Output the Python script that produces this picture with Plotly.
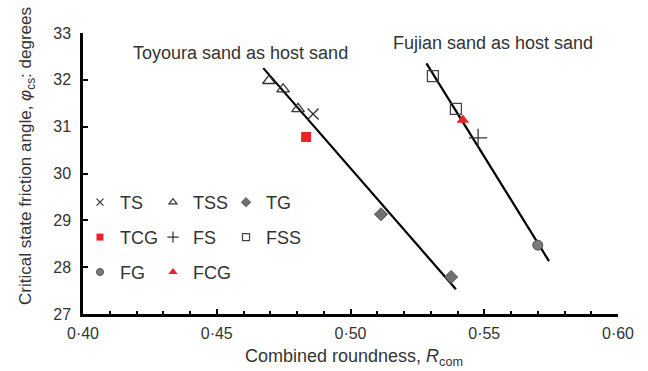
import plotly.graph_objects as go

# ---------------- data ----------------
ts_x = [0.486]
ts_y = [31.27]
tss_x = [0.4695, 0.4748, 0.4804]
tss_y = [31.98, 31.80, 31.38]
tg_x = [0.5114, 0.5376]
tg_y = [29.13, 27.79]
tcg_x = [0.4834]
tcg_y = [30.78]
fs_x = [0.5477]
fs_y = [30.76]
fss_x = [0.5308, 0.5394]
fss_y = [32.08, 31.38]
fg_x = [0.570]
fg_y = [28.47]
fcg_x = [0.542]
fcg_y = [31.14]

toyoura_line_x = [0.4674, 0.5394]
toyoura_line_y = [32.25, 27.53]
fujian_line_x = [0.5284, 0.5742]
fujian_line_y = [32.35, 28.13]

x_tickvals = [0.40, 0.45, 0.50, 0.55, 0.60]
x_ticktext = ["0·40", "0·45", "0·50", "0·55", "0·60"]
y_tickvals = [27, 28, 29, 30, 31, 32, 33]
y_ticktext = ["27", "28", "29", "30", "31", "32", "33"]

# ---------------- layout helpers ----------------
W, H = 648, 371
L, R, T, B = 83, 30, 33, 57
PW, PH = W - L - R, H - T - B
FONT = "Liberation Sans, Arial, sans-serif"
TXT = "#333333"
RED = "#e8242a"
DARK = "#333333"


def px(x):
    return (x - L) / PW


def py(y):
    return (H - B - y) / PH


# legend is laid out as three columns (one plotly legend per column)
series = [
    # name, x, y, marker(data), marker(legend key), legend id
    ("TS", ts_x, ts_y,
     dict(symbol="x-thin", size=11, color=DARK, line=dict(width=1.3, color=DARK)),
     dict(symbol="x-thin", size=7, color=DARK, line=dict(width=1.2, color=DARK)), "legend"),
    ("TSS", tss_x, tss_y,
     dict(symbol="triangle-up-open", size=11, color=DARK, line=dict(width=1.3)),
     dict(symbol="triangle-up-open", size=7, color=DARK, line=dict(width=1.2)), "legend2"),
    ("TG", tg_x, tg_y,
     dict(symbol="diamond", size=10, color="#707070", line=dict(width=1, color="#505050")),
     dict(symbol="diamond", size=7, color="#707070", line=dict(width=1, color="#505050")), "legend3"),
    ("TCG", tcg_x, tcg_y,
     dict(symbol="square", size=10, color=RED, line=dict(width=0)),
     dict(symbol="square", size=7, color=RED, line=dict(width=0)), "legend"),
    ("FS", fs_x, fs_y,
     dict(symbol="cross-thin", size=13, color=DARK, line=dict(width=1.3, color=DARK)),
     dict(symbol="cross-thin", size=8, color=DARK, line=dict(width=1.2, color=DARK)), "legend2"),
    ("FSS", fss_x, fss_y,
     dict(symbol="square-open", size=11, color="#444444", line=dict(width=1.3)),
     dict(symbol="square-open", size=7, color="#444444", line=dict(width=1.2)), "legend3"),
    ("FG", fg_x, fg_y,
     dict(symbol="circle", size=10, color="#7a7a7a", line=dict(width=1, color="#505050")),
     dict(symbol="circle", size=7, color="#7a7a7a", line=dict(width=1, color="#505050")), "legend"),
    ("FCG", fcg_x, fcg_y,
     dict(symbol="triangle-up", size=11, color=RED, line=dict(width=0)),
     dict(symbol="triangle-up", size=8, color=RED, line=dict(width=0)), "legend2"),
]

fig = go.Figure()

# regression lines
fig.add_trace(go.Scatter(x=toyoura_line_x, y=toyoura_line_y, mode="lines",
                         line=dict(color="black", width=2.2), showlegend=False,
                         hoverinfo="skip"))
fig.add_trace(go.Scatter(x=fujian_line_x, y=fujian_line_y, mode="lines",
                         line=dict(color="black", width=2.2), showlegend=False,
                         hoverinfo="skip"))

for name, xs, ys, mk, lmk, lg in series:
    fig.add_trace(go.Scatter(x=xs, y=ys, mode="markers", marker=mk, name=name,
                             showlegend=False))
    # legend key (no data points, just the symbol)
    fig.add_trace(go.Scatter(x=[None], y=[None], mode="markers", marker=lmk,
                             name=name, legend=lg, legendgroup=name, showlegend=True))

legend_common = dict(orientation="v", xanchor="left", yanchor="top",
                     bgcolor="rgba(0,0,0,0)",
                     font=dict(family=FONT, size=18, color=TXT), itemwidth=30,
                     tracegroupgap=8.5)

LEG_TOP = 184
fig.update_layout(
    width=W, height=H,
    margin=dict(l=L, r=R, t=T, b=B),
    paper_bgcolor="white", plot_bgcolor="white",
    font=dict(family=FONT, size=16, color=TXT),
    legend=dict(x=px(80), y=py(LEG_TOP), **legend_common),
    legend2=dict(x=px(153), y=py(LEG_TOP), **legend_common),
    legend3=dict(x=px(226), y=py(LEG_TOP), **legend_common),
    xaxis=dict(range=[0.40, 0.60], tickvals=x_tickvals, ticktext=x_ticktext,
               ticks="inside", ticklen=5, tickwidth=1.5, tickcolor="black",
               minor=dict(dtick=0.01, ticks="inside", ticklen=3, tickwidth=1.5,
                          tickcolor="black", showgrid=False),
               showline=True, linecolor="black", linewidth=2.5, mirror=False,
               showgrid=False, zeroline=False, ticklabelstandoff=3,
               tickfont=dict(family=FONT, size=16, color=TXT)),
    yaxis=dict(range=[27, 33], tickvals=y_tickvals, ticktext=y_ticktext,
               ticks="inside", ticklen=5, tickwidth=1.5, tickcolor="black",
               showline=True, linecolor="black", linewidth=2.5, mirror=False,
               showgrid=False, zeroline=False, ticklabelstandoff=6,
               tickfont=dict(family=FONT, size=16, color=TXT)),
    annotations=[
        dict(text="Toyoura sand as host sand", xref="paper", yref="paper",
             x=px(240), y=py(53), showarrow=False, xanchor="center", yanchor="middle",
             font=dict(family=FONT, size=18, color=TXT)),
        dict(text="Fujian sand as host sand", xref="paper", yref="paper",
             x=px(493), y=py(43), showarrow=False, xanchor="center", yanchor="middle",
             font=dict(family=FONT, size=18, color=TXT)),
        dict(text="Combined roundness, <i>R</i><sub>com</sub>", xref="paper", yref="paper",
             x=px(354), y=py(357), showarrow=False, xanchor="center", yanchor="middle",
             font=dict(family=FONT, size=18, color=TXT)),
        dict(text="Critical state friction angle, <i>φ</i><sub>cs</sub>: degrees",
             xref="paper", yref="paper", x=px(27), y=py(156), textangle=-90,
             showarrow=False, xanchor="center", yanchor="middle",
             font=dict(family=FONT, size=17, color=TXT)),
    ],
)

fig.write_html("out.html", config={"displayModeBar": False})
